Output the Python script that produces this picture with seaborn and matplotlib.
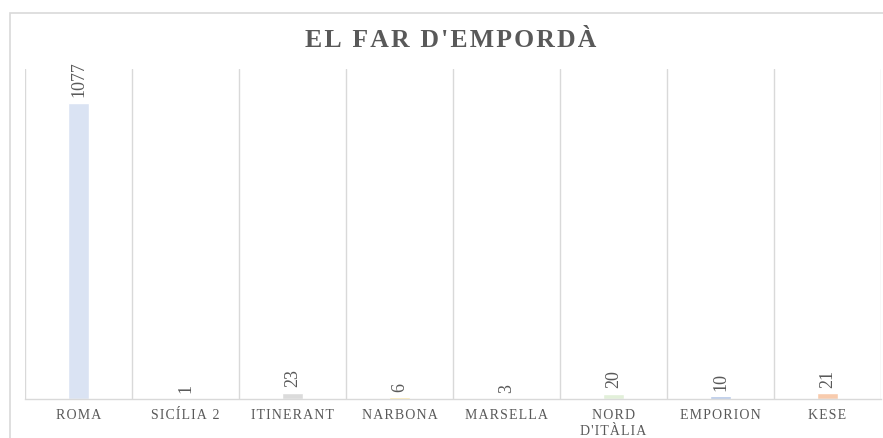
#!/usr/bin/env python3
import pandas as pd
import numpy as np
import matplotlib
matplotlib.use("Agg")
import matplotlib.pyplot as plt
from matplotlib.patches import Rectangle
import seaborn as sns

# Chart data.
categories = ["ROMA", "SICÍLIA 2", "ITINERANT", "NARBONA", "MARSELLA",
              "NORD\nD'ITÀLIA", "EMPORION", "KESE"]
values = [1077, 1, 23, 6, 3, 20, 10, 21]
bar_colors = ["#DAE3F3", "#FBE5D6", "#DBDBDB", "#FFE699", "#FBE5D6",
              "#E2F0D9", "#B4C7E7", "#F8CBAD"]
title = "EL FAR D'EMPORDÀ"

df = pd.DataFrame({"cat": categories, "val": values})

sns.set_theme(style="white")
plt.rcParams["font.family"] = ["Liberation Serif", "DejaVu Serif"]

text_gray = "#595959"
line_gray = "#D9D9D9"


# Excel-like letter spacing: put a hair space between the letters.
def spaced(s, gap="\u200a"):
    return "\n".join(gap.join(line) for line in s.split("\n"))


fig = plt.figure(figsize=(8.83, 4.38), dpi=100)
ax = fig.add_axes([25 / 883, 39 / 438, 856 / 883, 330 / 438])

sns.barplot(data=df, x="cat", y="val", hue="cat", palette=bar_colors,
            width=0.19, legend=False, ax=ax, saturation=1)

ax.set_ylim(0, 1200)
ax.set_xlim(-0.5, len(categories) - 0.5)

# Vertical gridlines between the categories.
ax.set_xticks(np.arange(-0.5, len(categories), 1.0), minor=True)
ax.grid(True, axis="x", which="minor", color=line_gray, linewidth=1)
ax.grid(False, axis="y")
ax.tick_params(axis="x", which="both", length=0)
ax.set_xticks(range(len(categories)))
ax.set_xticklabels([spaced(c) for c in categories], fontsize=10,
                   color=text_gray, linespacing=1.35)
ax.tick_params(axis="x", pad=7)
ax.set_yticks([])
ax.set_xlabel("")
ax.set_ylabel("")
for side in ["top", "left", "right"]:
    ax.spines[side].set_visible(False)
ax.spines["bottom"].set_color(line_gray)
ax.spines["bottom"].set_linewidth(1)

# Data labels.
for i, v in enumerate(values):
    ax.annotate(str(v), (i, v), xytext=(0, 4), textcoords="offset points",
                rotation=90, ha="center", va="bottom", fontsize=13,
                color=text_gray)

fig.text(0.51, 0.907, spaced(title), ha="center", va="center",
         fontsize=18.5, fontweight="bold", color=text_gray)

# Outer chart border.
fig.patches.append(Rectangle((10 / 883, -0.05), 1.0, (438 - 13) / 438 + 0.05,
                             transform=fig.transFigure, fill=False,
                             edgecolor=line_gray, linewidth=1.2))

fig.savefig("out.png", dpi=100)
